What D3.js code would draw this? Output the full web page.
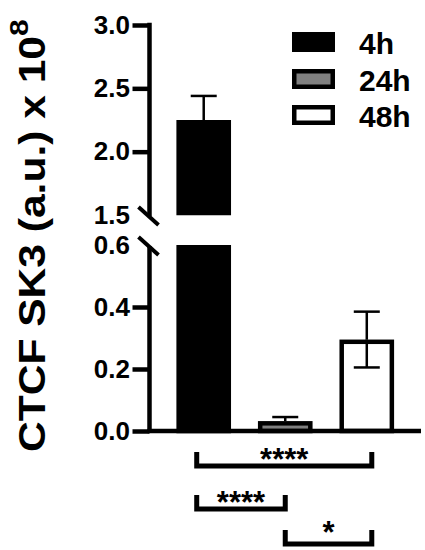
<!DOCTYPE html>
<html>
<head>
<meta charset="utf-8">
<script src="https://cdn.jsdelivr.net/npm/d3@7"></script>
<style>
  html, body { margin: 0; padding: 0; background: #fff; }
  svg { display: block; }
  text { font-family: "Liberation Sans", Arial, Helvetica, sans-serif; font-weight: bold; fill: #000; }
</style>
</head>
<body>
<svg id="chart" width="425" height="550"></svg>
<script>
// ---- data ----
const groups = ["4h", "24h", "48h"];
const means = [2.25, 0.032, 0.295];
const sems = [0.19, 0.013, 0.09];
const showLower = [true, false, true];
const fills = ["#000000", "#808080", "#ffffff"];
const upperTicks = [1.5, 2.0, 2.5, 3.0];
const lowerTicks = [0.0, 0.2, 0.4, 0.6];
const comparisons = [
  { from: "4h", to: "48h", label: "****" },
  { from: "4h", to: "24h", label: "****" },
  { from: "24h", to: "48h", label: "*" }
];
const yLabel = "CTCF SK3 (a.u.) x 10";
const yLabelSup = "8";

// ---- layout ----
const svg = d3.select("#chart");
const axisX = 149.5;
const xAxisEnd = 421;
const x = d3.scaleBand().domain(groups).range([axisX, xAxisEnd]).paddingInner(0.33).paddingOuter(0.33);
const yUp = d3.scaleLinear().domain([1.5, 3.0]).range([215, 25]);
const yLo = d3.scaleLinear().domain([0, 0.6]).range([431, 245]);
const LW = 4.5;

function yTop(v) { return v > 0.6 ? yUp(v) : yLo(v); }

// ---- bars ----
const barG = svg.append("g");
groups.forEach((g, i) => {
  const v = means[i];
  const x0 = x(g), w = x.bandwidth();
  const segs = [];
  if (v > 0.6) {
    segs.push([yUp(v), yUp(1.5) - 2]);
    segs.push([yLo(0.6), yLo(0)]);
  } else {
    segs.push([yLo(v), yLo(0)]);
  }
  segs.forEach(([t, b]) => {
    barG.append("rect")
      .attr("x", x0 + LW / 2).attr("y", t + LW / 2)
      .attr("width", w - LW).attr("height", b - t - LW / 2)
      .attr("fill", fills[i]).attr("stroke", "#000").attr("stroke-width", LW);
  });
});

// ---- error bars ----
const capW = 26;
groups.forEach((g, i) => {
  const cx = x(g) + x.bandwidth() / 2;
  const v = means[i], s = sems[i];
  const ends = [v + s];
  if (showLower[i]) ends.push(v - s);
  ends.forEach(e => {
    const ye = yTop(e), yv = yTop(v);
    barG.append("line").attr("x1", cx).attr("x2", cx).attr("y1", yv).attr("y2", ye)
      .attr("stroke", "#000").attr("stroke-width", 2.5);
    barG.append("line").attr("x1", cx - capW / 2).attr("x2", cx + capW / 2).attr("y1", ye).attr("y2", ye)
      .attr("stroke", "#000").attr("stroke-width", 2.5);
  });
});

// ---- axes ----
function styleAxis(g, noTickVal) {
  g.select(".domain").attr("stroke-width", LW).attr("stroke-linecap", "square");
  g.selectAll(".tick line").attr("stroke-width", LW);
  g.selectAll(".tick").filter(d => d === noTickVal).select("line").remove();
  g.selectAll(".tick text").attr("font-size", 26).attr("font-family", null).attr("fill", "#000");
}
const upAxis = svg.append("g").attr("transform", `translate(${axisX},0)`)
  .call(d3.axisLeft(yUp).tickValues(upperTicks).tickFormat(d3.format(".1f")).tickSize(17).tickSizeOuter(0).tickPadding(2.5));
upAxis.attr("font-family", null).attr("font-size", null);
upAxis.select(".domain").attr("d", `M0,${yUp(3.0)}V${yUp(1.5) - 1}`);
styleAxis(upAxis, 1.5);

const loAxis = svg.append("g").attr("transform", `translate(${axisX},0)`)
  .call(d3.axisLeft(yLo).tickValues(lowerTicks).tickFormat(d3.format(".1f")).tickSize(17).tickSizeOuter(0).tickPadding(2.5));
loAxis.attr("font-family", null).attr("font-size", null);
loAxis.select(".domain").attr("d", `M0,${yLo(0.6) + 1}V${yLo(0)}`);
styleAxis(loAxis, 0.6);
loAxis.select(".domain").attr("stroke-linecap", "butt");

// x axis baseline
svg.append("line").attr("x1", axisX - 2).attr("x2", xAxisEnd).attr("y1", yLo(0)).attr("y2", yLo(0))
  .attr("stroke", "#000").attr("stroke-width", LW);

// break marks
[yUp(1.5), yLo(0.6)].forEach(yy => {
  svg.append("line").attr("x1", axisX - 11).attr("x2", axisX + 9).attr("y1", yy - 8).attr("y2", yy + 10)
    .attr("stroke", "#000").attr("stroke-width", 4);
});

// ---- y label ----
const yl = svg.append("text")
  .attr("transform", "translate(45,452) rotate(-90) scale(1.15,1)")
  .attr("font-size", 37);
yl.append("tspan").text(yLabel);
yl.append("tspan").attr("font-size", 26).attr("dy", -17).text(yLabelSup);

// ---- legend ----
const legTops = [32, 69, 105];
const legG = svg.append("g");
groups.forEach((g, i) => {
  legG.append("rect").attr("x", 292 + LW / 2).attr("y", legTops[i] + LW / 2)
    .attr("width", 43 - LW).attr("height", 20 - LW)
    .attr("fill", fills[i]).attr("stroke", "#000").attr("stroke-width", LW);
  legG.append("text").attr("x", 359).attr("y", legTops[i] + 22).attr("font-size", 30).text(g);
});

// ---- significance brackets ----
const endOff = { "4h": -7, "24h": 0, "48h": 5 };
const bracketYs = [466, 509, 544];
comparisons.forEach((c, i) => {
  const lx = x(c.from) + x.bandwidth() / 2 + endOff[c.from];
  const rx = x(c.to) + x.bandwidth() / 2 + endOff[c.to];
  const by = bracketYs[i];
  svg.append("path")
    .attr("d", `M${lx},${by - 14}V${by}H${rx}V${by - 14}`)
    .attr("fill", "none").attr("stroke", "#000").attr("stroke-width", 5).attr("stroke-linecap", "butt");
  svg.append("text").attr("x", (lx + rx) / 2).attr("y", Math.min(by + 4, 543)).attr("text-anchor", "middle")
    .attr("font-size", 31).text(c.label);
});
</script>
</body>
</html>
